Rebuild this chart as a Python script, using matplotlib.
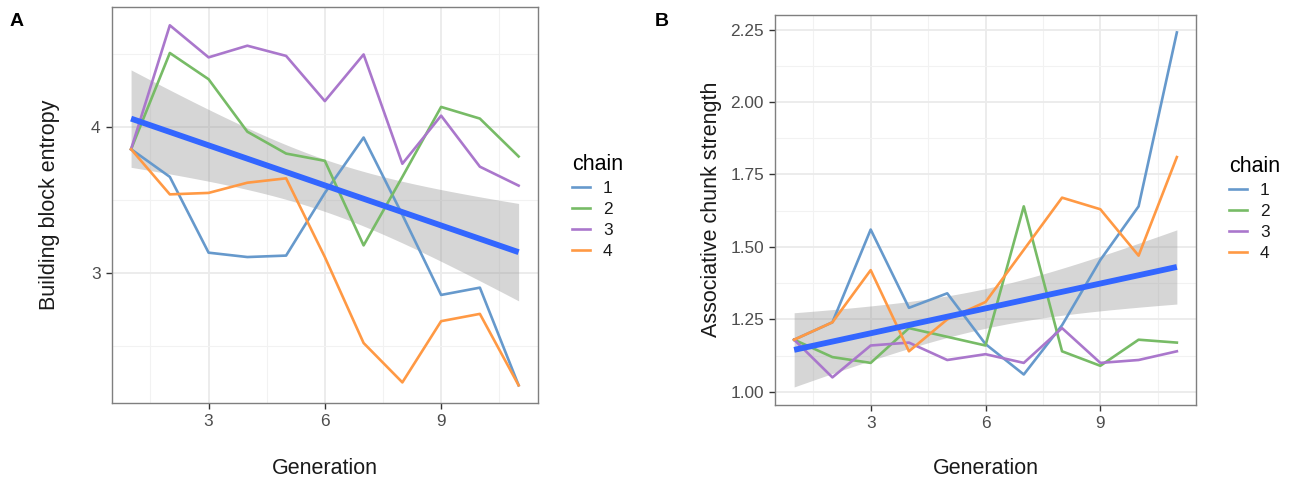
import numpy as np
import matplotlib
matplotlib.use("Agg")
import matplotlib.pyplot as plt
from matplotlib.ticker import MultipleLocator

plt.rcParams['font.family'] = ['Liberation Sans', 'DejaVu Sans']

generation = [1, 2, 3, 4, 5, 6, 7, 8, 9, 10, 11]
chains = ['1', '2', '3', '4']
colors = ['#6699CC', '#77BB66', '#AA77CC', '#FF9944']

# Panel A: building block entropy
entropy_1 = [3.85, 3.66, 3.14, 3.11, 3.12, 3.55, 3.93, 3.40, 2.85, 2.90, 2.23]
entropy_2 = [3.85, 4.51, 4.33, 3.97, 3.82, 3.77, 3.19, 3.66, 4.14, 4.06, 3.80]
entropy_3 = [3.85, 4.70, 4.48, 4.56, 4.49, 4.18, 4.50, 3.75, 4.08, 3.73, 3.60]
entropy_4 = [3.85, 3.54, 3.55, 3.62, 3.65, 3.11, 2.52, 2.25, 2.67, 2.72, 2.23]

# Panel B: associative chunk strength
strength_1 = [1.18, 1.24, 1.56, 1.29, 1.34, 1.165, 1.06, 1.23, 1.455, 1.64, 2.24]
strength_2 = [1.18, 1.12, 1.10, 1.22, 1.19, 1.16, 1.64, 1.14, 1.09, 1.18, 1.17]
strength_3 = [1.18, 1.05, 1.16, 1.17, 1.11, 1.13, 1.10, 1.22, 1.10, 1.11, 1.14]
strength_4 = [1.18, 1.24, 1.42, 1.14, 1.25, 1.31, 1.49, 1.67, 1.63, 1.47, 1.81]

W, H = 1297, 484
fig = plt.figure(figsize=(W / 100, H / 100), dpi=100)


def px_axes(x0, y0, x1, y1):
    return fig.add_axes([x0 / W, 1 - y1 / H, (x1 - x0) / W, (y1 - y0) / H])


def lm_fit(xs, ys, grid):
    xs = np.asarray(xs, float)
    ys = np.asarray(ys, float)
    n = len(xs)
    b, a = np.polyfit(xs, ys, 1)
    resid = ys - (a + b * xs)
    s = np.sqrt(np.sum(resid ** 2) / (n - 2))
    xm = xs.mean()
    sxx = np.sum((xs - xm) ** 2)
    t = 2.018  # t quantile 0.975, df = 42
    fit = a + b * grid
    se = s * np.sqrt(1 / n + (grid - xm) ** 2 / sxx)
    return fit, fit - t * se, fit + t * se


def style(ax, ylabel, ymajor, yminor, xlab_y, ylab_x):
    ax.set_facecolor('white')
    ax.xaxis.set_major_locator(MultipleLocator(3))
    ax.xaxis.set_minor_locator(MultipleLocator(1.5))
    ax.yaxis.set_major_locator(MultipleLocator(ymajor))
    ax.yaxis.set_minor_locator(MultipleLocator(yminor))
    ax.grid(which='major', color='#EBEBEB', linewidth=1.3, zorder=0)
    ax.grid(which='minor', color='#F2F2F2', linewidth=0.8, zorder=0)
    ax.set_axisbelow(True)
    for sp in ax.spines.values():
        sp.set_color('#7F7F7F')
        sp.set_linewidth(1.0)
    ax.tick_params(which='major', length=4, width=1.0, color='#333333',
                   labelsize=12.4, labelcolor='#4D4D4D', pad=4)
    ax.tick_params(which='minor', length=0)
    ax.set_xlabel('Generation', fontsize=15.5, color='#1A1A1A')
    ax.set_ylabel(ylabel, fontsize=15.5, color='#1A1A1A')
    ax.xaxis.set_label_coords(0.5, xlab_y)
    ax.yaxis.set_label_coords(ylab_x, 0.5)


def panel(ax, series, ylabel, ymajor, yminor, xlab_y, ylab_x, fmt):
    allx = np.concatenate([generation] * len(series))
    ally = np.concatenate(series)
    grid = np.linspace(min(generation), max(generation), 100)
    fit, lo, hi = lm_fit(allx, ally, grid)
    ax.fill_between(grid, lo, hi, color='#999999', alpha=0.4, linewidth=0, zorder=3)
    for ser, c, lab in zip(series, colors, chains):
        ax.plot(generation, ser, color=c, linewidth=1.9, label=lab, zorder=4)
    ax.plot(grid, fit, color='#3366FF', linewidth=4.2, zorder=5, solid_capstyle='butt')
    lo_all = min(ally.min(), lo.min())
    hi_all = max(ally.max(), hi.max())
    pad = (hi_all - lo_all) * 0.05
    ax.set_ylim(lo_all - pad, hi_all + pad)
    ax.set_xlim(0.5, 11.5)
    style(ax, ylabel, ymajor, yminor, xlab_y, ylab_x)
    ax.yaxis.set_major_formatter(fmt)


axA = px_axes(111.7, 7.3, 538, 403.3)
panel(axA, [entropy_1, entropy_2, entropy_3, entropy_4], 'Building block entropy',
      1, 0.5, -0.138, -0.121, matplotlib.ticker.FormatStrFormatter('%d'))

axB = px_axes(775, 14.7, 1196, 404.7)
panel(axB, [strength_1, strength_2, strength_3, strength_4], 'Associative chunk strength',
      0.25, 0.125, -0.137, -0.126, matplotlib.ticker.FormatStrFormatter('%.2f'))

for ax, xl, yt in ((axA, 572, 154), (axB, 1229, 156)):
    h, l = ax.get_legend_handles_labels()
    leg = fig.legend(h, l, title='chain', loc='upper left',
                     bbox_to_anchor=(xl / W, 1 - yt / H),
                     frameon=False, fontsize=12.4, title_fontsize=15.5,
                     handlelength=1.05, handletextpad=0.75, labelspacing=0.345,
                     borderpad=0, borderaxespad=0, alignment='left')
    for line in leg.get_lines():
        line.set_linewidth(1.9)
    for txt in leg.get_texts():
        txt.set_color('#1A1A1A')

fig.text(17 / W, 1 - 22 / H, 'A', fontsize=14, fontweight='bold', ha='center', va='center')
fig.text(661.5 / W, 1 - 21.5 / H, 'B', fontsize=14, fontweight='bold', ha='center', va='center')

fig.savefig('out.png', dpi=100, facecolor='white')
